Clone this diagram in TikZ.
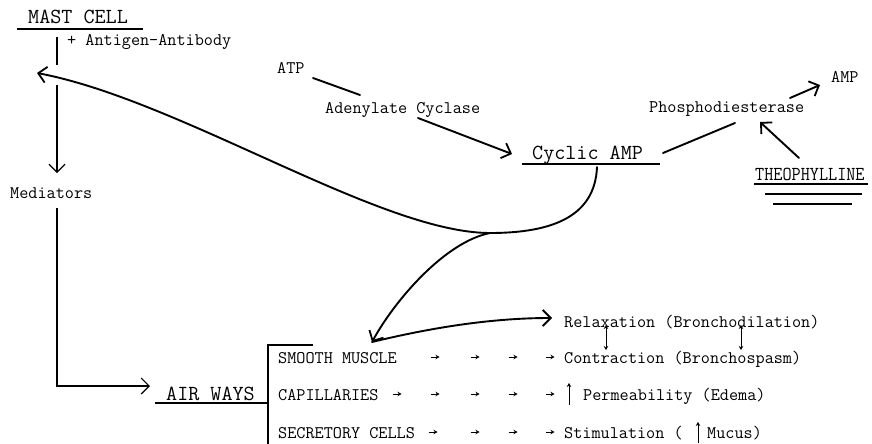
\documentclass[tikz,border=0pt]{standalone}
\usepackage{fontspec}
\usetikzlibrary{arrows.meta}
\begin{document}
\begin{tikzpicture}[x=1pt,y=-1pt,
  lbl/.style={anchor=base west,inner sep=0pt,font=\ttfamily\fontsize{17.7}{20}\selectfont},
  biglbl/.style={anchor=base west,inner sep=0pt,font=\ttfamily\fontsize{21.5}{24}\selectfont},
  flow/.style={line width=1.9pt,line cap=round},
  rule/.style={line width=1.4pt},
  thinline/.style={line width=1.1pt},
  barb/.style={-{Straight Barb[length=8pt,width=16pt,line width=1.8pt]}},
  thinbarb/.style={-{Straight Barb[length=8pt,width=16pt,line width=1.2pt]}},
  tick/.style={line width=0.9pt,-{Stealth[length=4pt,width=4.5pt]}},
  twohead/.style={line width=0.9pt,{Stealth[length=4pt,width=4.5pt]}-{Stealth[length=4pt,width=4.5pt]}},
]
\useasboundingbox (0,0) rectangle (872,444);

% ---- labels ----
\node[biglbl] (mast) at (28,24) {MAST CELL};
\node[lbl] (ag) at (67,46) {+ Antigen-Antibody};
\node[lbl] (atp) at (277,74) {ATP};
\node[lbl] (ac) at (325,113) {Adenylate Cyclase};
\node[biglbl] (camp) at (532,159) {Cyclic AMP};
\node[lbl] (pde) at (649,112) {Phosphodiesterase};
\node[lbl] (amp) at (831,82) {AMP};
\node[lbl] (theo) at (755,180) {\scalebox{1}[1.12]{THEOPHYLLINE}};
\node[lbl] (med) at (10,198) {Mediators};
\node[biglbl] (air) at (166,400) {AIR WAYS};

\node[lbl] (sm) at (278,363) {SMOOTH MUSCLE};
\node[lbl] (cap) at (278,400) {CAPILLARIES};
\node[lbl] (sec) at (278,438) {SECRETORY CELLS};

\node[lbl] (rel) at (564,327) {Relaxation (Bronchodilation)};
\node[lbl] (con) at (564,363) {Contraction (Bronchospasm)};
\node[lbl] (perm) at (583,400) {Permeability (Edema)};
\node[lbl] (stim) at (564,438) {Stimulation (};
\node[lbl] (muc) at (707,438) {Mucus)};

% ---- underlines and the airway bracket ----
\draw[rule] (17,29) -- (143,29);
\draw[rule] (522,164) -- (660,164);
\draw[rule] (754,184) -- (868,184);
\draw[rule] (765,194) -- (862,194);
\draw[rule] (773,204) -- (852,204);
\draw[rule] (155,403) -- (268,403);
\draw[rule] (313,345) -- (268,345) -- (268,444);

% ---- named points on the connectors ----
\coordinate (mcfoot) at (57,37);
\coordinate (gaptop) at (57,65);
\coordinate (gapbot) at (57,85);
\coordinate (medtip) at (57,173);
\coordinate (medfoot) at (57,208);
\coordinate (corner) at (57,386);
\coordinate (airtip) at (150,386);
\coordinate (atpend) at (313,78);
\coordinate (acin) at (360,95);
\coordinate (acout) at (418,118);
\coordinate (camptip) at (512,154);
\coordinate (campright) at (663,153);
\coordinate (pdein) at (735,123);
\coordinate (pdeout) at (790,98);
\coordinate (amptip) at (820,85);
\coordinate (theotop) at (799,158);
\coordinate (pdetip) at (760,122);
\coordinate (campfoot) at (597,167);
\coordinate (j) at (490,233);
\coordinate (mctip) at (37,73);
\coordinate (smtip) at (372,342);
\coordinate (reltip) at (552,318);

% ---- mast cell to mediators to airways ----
\draw[thinline] (mcfoot) -- (gaptop);
\draw[thinline,thinbarb] (gapbot) -- (medtip);
\draw[thinline,thinbarb] (medfoot) -- (corner) -- (airtip);

% ---- cyclic AMP pathway ----
\draw[flow] (atpend) -- (acin);
\draw[flow,barb] (acout) -- (camptip);
\draw[flow] (campright) -- (pdein);
\draw[flow,barb] (pdeout) -- (amptip);
\draw[flow,barb] (theotop) -- (pdetip);

% ---- effects of cyclic AMP ----
\draw[flow] (campfoot) .. controls (595,215) and (555,233) .. (j);
\draw[flow,barb] (j) .. controls (380,233) and (180,100) .. (mctip);
\draw[flow,barb] (j) .. controls (445,242) and (395,300) .. (smtip);
\draw[flow,barb] (smtip) .. controls (430,328) and (490,318) .. (reltip);

% ---- small arrows along the rows ----
\foreach \x in {435,475,513,550} \draw[tick] (\x-4.5,357) -- (\x+4.5,357);
\foreach \x in {397,435,475,513,550} \draw[tick] (\x-4.5,394) -- (\x+4.5,394);
\foreach \x in {433,475,513,550} \draw[tick] (\x-4.5,432) -- (\x+4.5,432);

% ---- vertical arrows ----
\draw[twohead] (606,325) -- (606,350);
\draw[twohead] (741,325) -- (741,350);
\draw[tick] (569,405) -- (569,383);
\draw[tick] (698,443) -- (698,422);
\end{tikzpicture}
\end{document}
